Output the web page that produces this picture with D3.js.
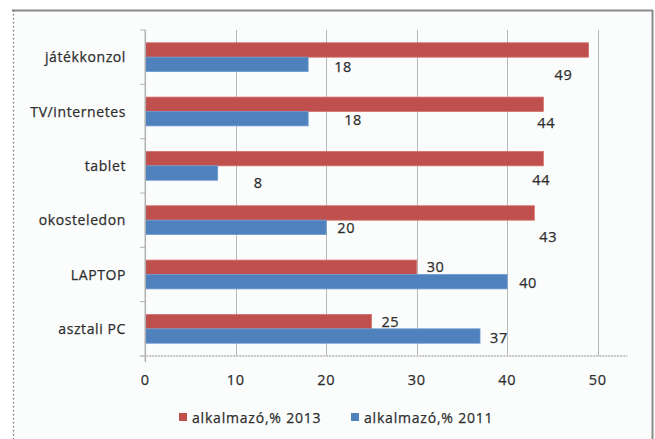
<!DOCTYPE html>
<html>
<head>
<meta charset="utf-8">
<script src="https://cdn.jsdelivr.net/npm/d3@7"></script>
<style>
  html, body { margin: 0; padding: 0; background: #ffffff; }
  svg { display: block; }
  text { font-family: "Open Sans", "DejaVu Sans", sans-serif; fill: #2e2e2e; stroke: #2e2e2e; stroke-width: 0.25px; }
</style>
</head>
<body>
<svg id="chart" width="655" height="439"></svg>
<script>
// ---- data ----
const categories = ["játékkonzol", "TV/internetes", "tablet", "okosteledon", "LAPTOP", "asztali PC"];
const values2013 = [49, 44, 44, 43, 30, 25];
const values2011 = [18, 18, 8, 20, 40, 37];
const seriesNames = ["alkalmazó,% 2013", "alkalmazó,% 2011"];
const xTicks = [0, 10, 20, 30, 40, 50];
// label nudges (px) relative to bar end / bar centre, as placed in the original
const nudge2013 = [[-34, 25], [-6, 19], [-11, 21], [5, 24], [10, 0], [10, 0]];
const nudge2011 = [[26, 3], [36, 1], [36, 10], [11, 1], [12, 1], [10, 2]];

const colors = ["#C0504D", "#4F81BD"];

const svg = d3.select("#chart");

// frame
svg.append("rect").attr("x", 13).attr("y", 10).attr("width", 640).attr("height", 440)
  .attr("fill", "#fbfdfd").attr("stroke", "none");
svg.append("line").attr("x1", 12).attr("x2", 653).attr("y1", 10.5).attr("y2", 10.5)
  .attr("stroke", "#8a8a8a").attr("stroke-width", 2);
svg.append("line").attr("x1", 652.5).attr("x2", 652.5).attr("y1", 10).attr("y2", 439)
  .attr("stroke", "#8a8a8a").attr("stroke-width", 2);
svg.append("line").attr("x1", 13.5).attr("x2", 13.5).attr("y1", 10).attr("y2", 439)
  .attr("stroke", "#707070").attr("stroke-width", 1.2).attr("stroke-dasharray", "1.5,2.5");

const plotLeft = 145.3, plotTop = 30, plotBottom = 356;
const x = d3.scaleLinear().domain([0, 53.3]).range([plotLeft, 627.5]);
const y = d3.scaleBand().domain(categories).range([plotTop, plotBottom])
  .paddingInner(0.47).paddingOuter(0.235);
const ySub = d3.scaleBand().domain([0, 1]).range([0, y.bandwidth()]);

// gridlines
svg.append("g").selectAll("line").data(xTicks.slice(1)).join("line")
  .attr("x1", d => Math.round(x(d)) + 0.5).attr("x2", d => Math.round(x(d)) + 0.5)
  .attr("y1", plotTop).attr("y2", plotBottom)
  .attr("stroke", "#b8b8b8").attr("stroke-width", 1);

// category axis ticks (band boundaries)
const step = y.step();
const bounds = d3.range(categories.length + 1).map(i => plotTop + i * step);
svg.append("g").selectAll("line").data(bounds).join("line")
  .attr("x1", plotLeft - 5).attr("x2", plotLeft).attr("y1", d => d).attr("y2", d => d)
  .attr("stroke", "#b0b0b0").attr("stroke-width", 1);

// bars
const series = [values2013, values2011];
series.forEach((vals, si) => {
  svg.append("g").selectAll("rect").data(categories).join("rect")
    .attr("x", x(0))
    .attr("y", (c) => y(c) + ySub(si))
    .attr("width", (c, i) => x(vals[i]) - x(0))
    .attr("height", ySub.bandwidth())
    .attr("fill", colors[si])
    .attr("stroke", si === 0 ? "#d46f6c" : "#6e9ad0")
    .attr("stroke-width", 0.8);
});

// vertical axis line
svg.append("line").attr("x1", plotLeft).attr("x2", plotLeft).attr("y1", plotTop).attr("y2", plotBottom + 6)
  .attr("stroke", "#b0b0b0").attr("stroke-width", 1.5);
// bottom axis
svg.append("line").attr("x1", plotLeft - 5).attr("x2", 627.5).attr("y1", plotBottom).attr("y2", plotBottom)
  .attr("stroke", "#c4c4c4").attr("stroke-width", 2.2).attr("stroke-dasharray", "2,1");

// x tick labels
svg.append("g").selectAll("text").data(xTicks).join("text")
  .attr("x", d => x(d)).attr("y", 385)
  .attr("text-anchor", "middle").attr("font-size", 14.5).attr("letter-spacing", 0.6)
  .text(d => d);

// category labels
svg.append("g").selectAll("text").data(categories).join("text")
  .attr("x", 126).attr("y", c => y(c) + y.bandwidth() / 2 + 5)
  .attr("text-anchor", "end").attr("font-size", 14).attr("letter-spacing", 0.6)
  .text(c => c);

// value labels
const nudges = [nudge2013, nudge2011];
series.forEach((vals, si) => {
  svg.append("g").selectAll("text").data(categories).join("text")
    .attr("x", (c, i) => x(vals[i]) + nudges[si][i][0])
    .attr("y", (c, i) => y(c) + ySub(si) + ySub.bandwidth() / 2 + nudges[si][i][1] + 5)
    .attr("text-anchor", "start").attr("font-size", 14.5).attr("letter-spacing", 0.6)
    .text((c, i) => vals[i]);
});

// legend
const legendItems = [{ name: seriesNames[0], color: colors[0], x: 179 }, { name: seriesNames[1], color: colors[1], x: 351 }];
const lg = svg.append("g").selectAll("g").data(legendItems).join("g");
lg.append("rect").attr("x", d => d.x).attr("y", 413).attr("width", 8).attr("height", 8)
  .attr("fill", d => d.color);
lg.append("text").attr("x", d => d.x + 13).attr("y", 422.5).attr("font-size", 14).attr("letter-spacing", 0.8)
  .text(d => d.name);
</script>
</body>
</html>
